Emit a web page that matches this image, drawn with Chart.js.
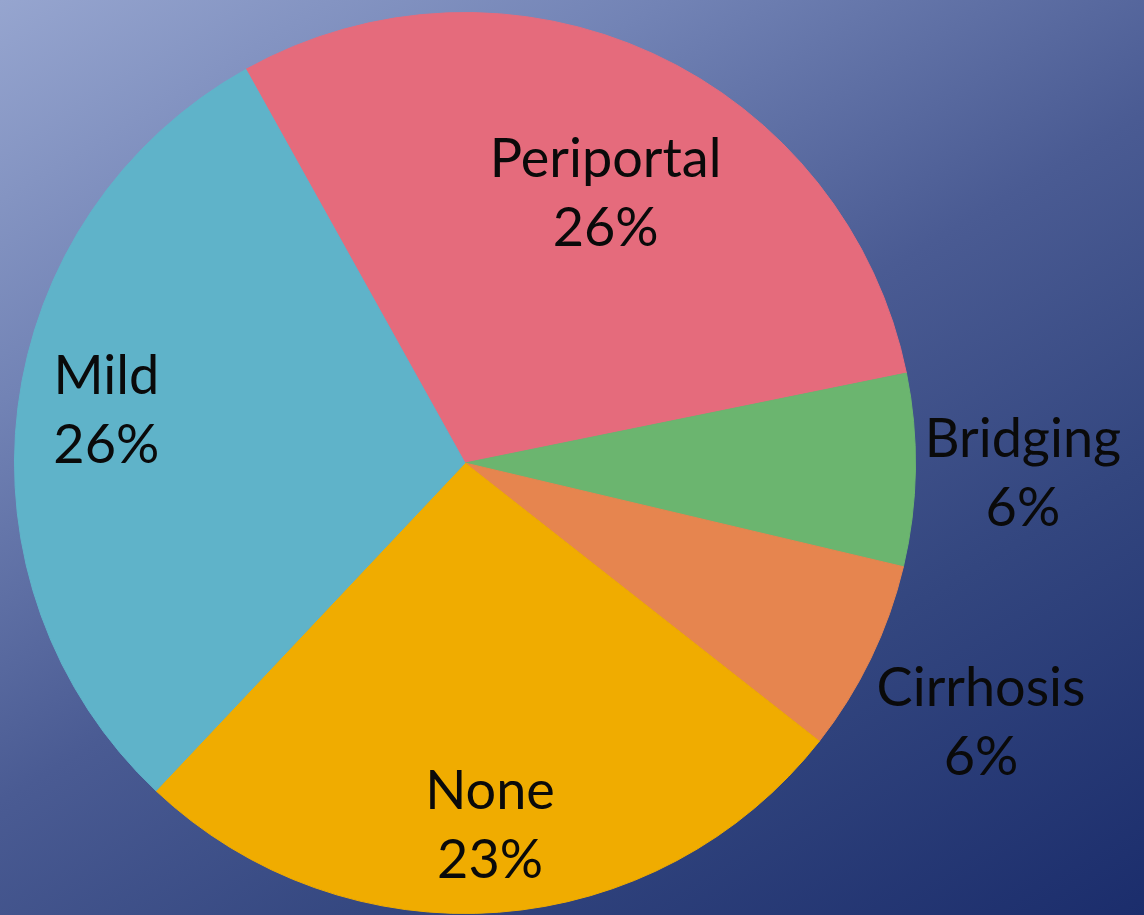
<!DOCTYPE html>
<html>
<head>
<meta charset="utf-8">
<title>Fibrosis stage</title>
<script src="https://cdn.jsdelivr.net/npm/chart.js@4/dist/chart.umd.min.js"></script>
<style>
  html, body { margin: 0; padding: 0; }
  body {
    width: 1144px;
    height: 915px;
    overflow: hidden;
    background: linear-gradient(149deg, #96a5cf 0%, #7283b5 25%, #4a5b93 50%, #33467f 72%, #1b2d6c 100%);
  }
  canvas { display: block; }
</style>
</head>
<body>
<canvas id="pie" width="1144" height="915"></canvas>
<script>
var categorias = ["Periportal", "Bridging", "Cirrhosis", "None", "Mild"];
var valores = [26, 6, 6, 23, 26];
var cores = ["#e56b7c", "#6bb56f", "#e6854f", "#f0ac00", "#5fb3c9"];

// where each label sits: fraction of the radius, and a small turn in degrees
var raioRotulo = [0.64, 1.24, 1.30, 0.845, 0.80];
var giroRotulo = [4.5, 2, 2.5, 0.5, -1.5];

var rotulos = {
    id: 'rotulos',
    afterDatasetsDraw: function (chart) {
        var ctx = chart.ctx;
        var arcos = chart.getDatasetMeta(0).data;
        ctx.save();
        ctx.fillStyle = '#0a0a0a';
        ctx.font = '54px Lato';
        ctx.textAlign = 'center';
        ctx.textBaseline = 'alphabetic';
        for (var i = 0; i < arcos.length; i++) {
            var a = arcos[i];
            var meio = (a.startAngle + a.endAngle) / 2 + giroRotulo[i] * Math.PI / 180;
            var r = a.outerRadius * raioRotulo[i];
            var x = a.x + Math.cos(meio) * r;
            var y = a.y + Math.sin(meio) * r;
            ctx.fillText(categorias[i], x, y - 34);
            ctx.fillText(valores[i] + '%', x, y + 35);
        }
        ctx.restore();
    }
};

var grafico = new Chart(document.getElementById('pie'), {
    type: 'pie',
    data: {
        labels: categorias,
        datasets: [{
            data: valores,
            backgroundColor: cores,
            borderColor: cores,
            borderWidth: 1
        }]
    },
    options: {
        responsive: false,
        animation: false,
        rotation: -29.1,
        layout: {
            padding: { left: 14, right: 228, top: 12, bottom: 1 }
        },
        plugins: {
            legend: { display: false },
            tooltip: { enabled: false }
        }
    },
    plugins: [rotulos]
});
</script>
</body>
</html>
